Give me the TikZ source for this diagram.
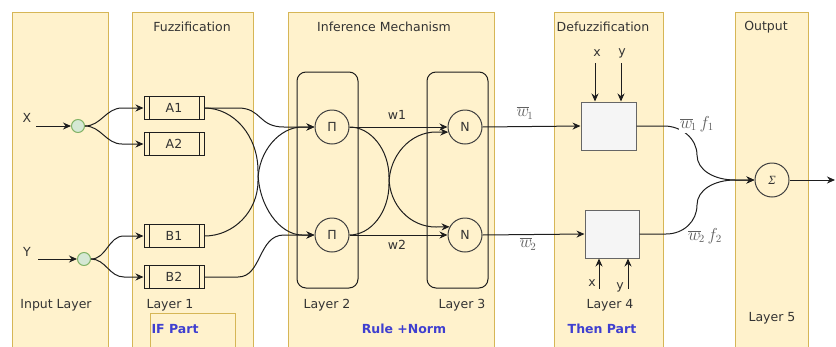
\documentclass[tikz,border=0pt]{standalone}
\usepackage{fontspec}
\setmainfont{DejaVu Sans}
\newfontfamily\serifit{Liberation Serif}
\usetikzlibrary{arrows.meta}
\definecolor{panelfill}{HTML}{FFF2CC}
\definecolor{paneldraw}{HTML}{D6B656}
\definecolor{gfill}{HTML}{D5E8D4}
\definecolor{gdraw}{HTML}{82B366}
\definecolor{boxfill}{HTML}{F5F5F5}
\definecolor{boxdraw}{HTML}{666666}
\definecolor{txt}{HTML}{333333}
\definecolor{bluet}{HTML}{3F3FD0}
\definecolor{edgec}{HTML}{1E1E1E}
\begin{document}
\begin{tikzpicture}[x=1pt,y=-1pt,
  font=\fontsize{12.5}{15}\selectfont,
  panel/.style={fill=panelfill,draw=paneldraw,line width=1pt},
  lab/.style={text=txt,inner sep=1pt},
  bluelab/.style={text=bluet,inner sep=1pt,font=\fontsize{12.5}{15}\selectfont\bfseries},
  procbox/.style={draw=edgec,fill=panelfill,line width=1pt,minimum width=60pt,minimum height=23pt,inner sep=0pt,text=txt,
    path picture={\draw[edgec,line width=1pt]
      ([xshift=5pt]path picture bounding box.north west) -- ([xshift=5pt]path picture bounding box.south west)
      ([xshift=-5pt]path picture bounding box.north east) -- ([xshift=-5pt]path picture bounding box.south east);}},
  opnode/.style={circle,draw=edgec!85,line width=1pt,minimum size=34pt,inner sep=0pt,text=txt},
  innode/.style={circle,draw=gdraw,fill=gfill,line width=1pt,minimum size=13pt,inner sep=0pt},
  defbox/.style={draw=boxdraw,fill=boxfill,line width=1pt,minimum width=55pt,minimum height=48pt,inner sep=0pt},
  layerbox/.style={draw=edgec,rounded corners=9pt,line width=1pt},
  conn/.style={draw=edgec,line width=1pt},
  arr/.style={conn,-{Stealth[length=8pt,width=7pt]}},
  mathlab/.style={text=black!62,inner sep=1pt,font=\fontsize{16}{18}\selectfont}
]
\useasboundingbox (0,0) rectangle (836,346);
\clip (0,0) rectangle (836,346);
\fill[white] (0,0) rectangle (836,346);
% panels
\path[panel] (12,12) rectangle (108,360);
\path[panel] (132,12) rectangle (253,360);
\path[panel] (288,12) rectangle (494,360);
\path[panel] (554,12) rectangle (663,360);
\path[panel] (735,12) rectangle (808,360);
% titles
\node[lab] (tfuz) at (192,27) {Fuzzification};
\node[lab] (tinf) at (384,27) {Inference Mechanism};
\node[lab] (tdef) at (603,27) {Defuzzification};
\node[lab] (tout) at (766,27) {Output};
% IF Part box
\draw[paneldraw,line width=1pt] (150,360) -- (150,313) -- (235,313) -- (235,360);
% bottom labels
\node[lab] (linp) at (56,305) {Input Layer};
\node[lab,fill=panelfill,inner sep=2pt] (l1) at (170,305) {Layer 1};
\node[bluelab] (ifp) at (175,329) {IF Part};
\node[lab] (l2) at (327,305) {Layer 2};
\node[lab] (l3) at (462,305) {Layer 3};
\node[bluelab] (rn) at (404,329) {Rule +Norm};
\node[lab] (l4) at (610,305) {Layer 4};
\node[bluelab] (tp) at (602,329) {Then Part};
\node[lab] (l5) at (772,318) {Layer 5};
% layer boxes
\draw[layerbox] (297,72) rectangle (358,288);
\draw[layerbox] (427,72) rectangle (488,288);
% inputs
\node[lab] (X) at (27,118) {X};
\node[lab] (Y) at (27,252) {Y};
\coordinate (xs) at (36,126);
\coordinate (ys) at (38,259);
\node[innode] (cx) at (78,126) {};
\node[innode] (cy) at (84,259) {};
% fuzzification boxes
\node[procbox] (A1) at (174,108) {A1};
\node[procbox] (A2) at (174,144) {A2};
\node[procbox] (B1) at (174,236) {B1};
\node[procbox] (B2) at (174,277) {B2};
% rule and norm nodes
\node[opnode] (P1) at (332,127) {Π};
\node[opnode] (P2) at (332,235) {Π};
\node[opnode] (N1) at (465,127) {N};
\node[opnode] (N2) at (465,235) {N};
% defuzz boxes
\node[defbox] (D1) at (608.5,126) {};
\node[defbox,minimum width=54pt] (D2) at (612,234) {};
% output
\node[opnode] (S) at (772,180) {\fontsize{12.5}{14}\selectfont\serifit\itshape Σ};
\coordinate (outend) at (835,180);
% edges: inputs
\draw[arr] (xs) -- (cx);
\draw[arr] (ys) -- (cy);
\draw[arr] (cx.east) to[out=0,in=180] (122,108) -- (A1.west);
\draw[arr] (cx.east) to[out=0,in=180] (122,144) -- (A2.west);
\draw[arr] (cy.east) to[out=0,in=180] (124,236) -- (B1.west);
\draw[arr] (cy.east) to[out=0,in=180] (124,277) -- (B2.west);
% fuzz -> rule
\draw[arr] (A1.east) -- (238,108) .. controls (262,108) and (258,127) .. (284,127) -- (P1.west);
\draw[arr] (A1.east) .. controls (234,108) and (258,136) .. (258,171) .. controls (258,206) and (280,235) .. (302,235) -- (P2.west);
\draw[arr] (B1.east) .. controls (234,236) and (258,211) .. (258,181) .. controls (258,151) and (280,127) .. (302,127) -- (P1.west);
\draw[arr] (B2.east) -- (238,277) .. controls (262,277) and (258,235) .. (284,235) -- (P2.west);
% rule -> norm
\draw[arr] (P1.east) -- (N1.west);
\draw[arr] (P2.east) -- (N2.west);
\draw[arr] (P1.east) .. controls (371,127) and (389,150) .. (389,177) .. controls (389,205) and (410,227) .. (436,227) -- (N2.152);
\draw[arr] (P2.east) .. controls (371,235) and (389,212) .. (389,184) .. controls (389,156) and (410,132) .. (436,132) -- (N1.197);
\node[lab] (w1) at (397,115) {w1};
\node[lab] (w2) at (397,245) {w2};
% norm -> defuzz
\draw[arr] (N1.east) -- (D1.west);
\draw[arr] (N2.east) -- (D2.west);
\node[mathlab] (wb1) at (525,113) {$\overline{w}_{\!1}$};
\node[mathlab] (wb2) at (528,244) {$\overline{w}_{\!2}$};
% x,y inputs of defuzz
\node[lab] (dx1) at (597,53) {x};
\node[lab] (dy1) at (622,53) {y};
\coordinate (dx1s) at (595,63);
\coordinate (dy1s) at (621,63);
\draw[arr] (dx1s) -- (dx1s |- D1.north);
\draw[arr] (dy1s) -- (dy1s |- D1.north);
\node[lab] (dx2) at (592,283) {x};
\node[lab] (dy2) at (620,287) {y};
\coordinate (dx2s) at (599,289);
\coordinate (dy2s) at (628,289);
\draw[arr] (dx2s) -- (dx2s |- D2.south);
\draw[arr] (dy2s) -- (dy2s |- D2.south);
% defuzz -> sum
\draw[arr] (D1.east) -- (664,126) .. controls (682,126) and (697,139) .. (697,155) .. controls (697,170) and (714,180) .. (735,180) -- (S.west);
\draw[arr] (D2.east) -- (666,234) .. controls (684,234) and (697,221) .. (697,205) .. controls (697,190) and (714,180) .. (735,180) -- (S.west);
\node[mathlab,fill=white] (wf1) at (697,124) {$\overline{w}_{\!1}\,f_1$};
\node[mathlab,fill=white] (wf2) at (705,236) {$\overline{w}_{\!2}\,f_2$};
\draw[arr] (S.east) -- (outend);
\end{tikzpicture}
\end{document}
